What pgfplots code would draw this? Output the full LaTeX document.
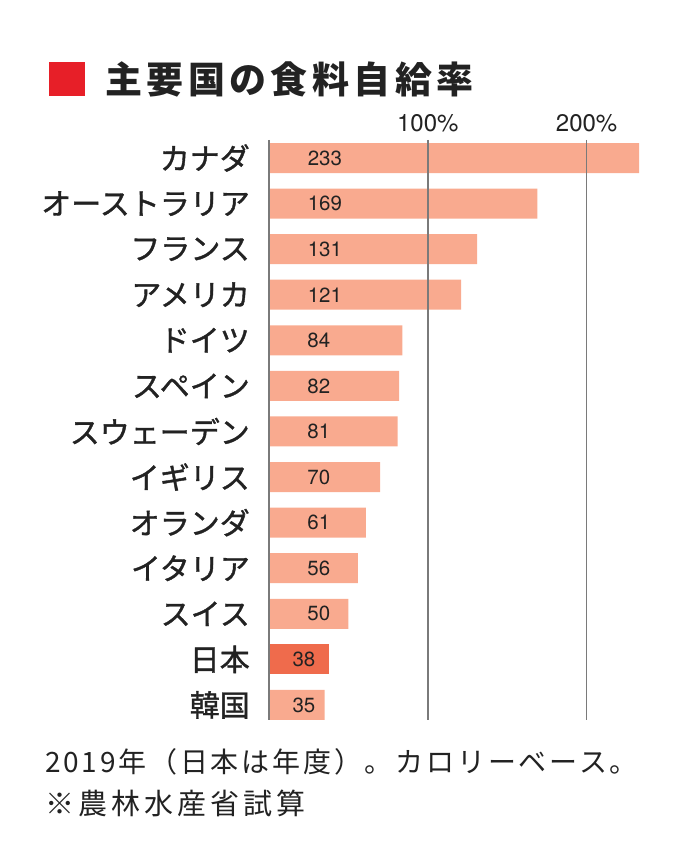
\documentclass[border=0pt]{standalone}
\usepackage{pgfplots}
\pgfplotsset{compat=1.18}
\usepackage{fontspec}
\setmainfont{TeX Gyre Heros}
\newfontfamily\jp{Noto Sans CJK JP}
\newfontfamily\jplab[FakeBold=1.2]{Noto Sans CJK JP}
\newfontfamily\jpa[LetterSpace=10]{Noto Sans CJK JP}
\newfontfamily\jpb[LetterSpace=14]{Noto Sans CJK JP}
\newfontfamily\jptitle[LetterSpace=12]{Noto Sans CJK JP}
\definecolor{barc}{HTML}{F9AA8F}
\definecolor{japc}{HTML}{EF6B4C}
\definecolor{redsq}{HTML}{E71F28}
\definecolor{gridc}{HTML}{7A7A7A}
\definecolor{txt}{HTML}{222222}
\begin{document}
\begin{tikzpicture}
\path (-269pt,-125pt) rectangle (431pt,720pt);
\fill[redsq] (-220pt,624pt) rectangle (-184pt,658pt);
\node[anchor=west, inner sep=0pt, text=txt] at (-164pt,641pt) {\jptitle\bfseries\fontsize{37}{37}\selectfont 主要国の食料自給率};
\begin{axis}[
  at={(0pt,0pt)}, anchor=south west,
  scale only axis, width=370pt, height=580pt,
  xmin=0, xmax=233, ymin=-0.395, ymax=12.33,
  y dir=reverse, enlargelimits=false, clip=false,
  /pgf/number format/assume math mode=true,
  axis line style={draw=none}, major tick length=0pt,
  xtick={0,100,200}, xticklabels={,100\%,200\%},
  xticklabel pos=right,
  xticklabel style={font=\fontsize{24}{24}\selectfont, text=txt, inner sep=0pt, yshift=8pt},
  ytick={0,...,12},
  yticklabels={カナダ,オーストラリア,フランス,アメリカ,ドイツ,スペイン,スウェーデン,イギリス,オランダ,イタリア,スイス,日本,韓国},
  yticklabel style={font=\jplab\fontsize{30}{30}\selectfont, text=txt, inner sep=0pt, anchor=east, xshift=-19pt},
  xmajorgrids, grid style={gridc, line width=1.8pt},
  axis on top,
]
\addplot[xbar, bar width=30pt, bar shift=0pt, fill=barc, draw=none] coordinates {
(233,0) (169,1) (131,2) (121,3) (84,4) (82,5) (81,6) (70,7) (61,8) (56,9) (50,10) (35,12)};
\addplot[xbar, bar width=30pt, bar shift=0pt, fill=japc, draw=none] coordinates {(38,11)};
\addplot[draw=none, mark=none, nodes near coords, point meta=explicit,
  nodes near coords style={anchor=center, inner sep=0pt, text=txt, font=\fontsize{20.5}{20.5}\selectfont}]
  table[x=lx, y=idx, meta=val] {
idx lx val
0 35.2 233
1 35.2 169
2 35.2 131
3 35.2 121
4 31.4 84
5 31.4 82
6 31.4 81
7 31.4 70
8 31.4 61
9 31.4 56
10 31.4 50
11 22 38
12 22 35
};
\end{axis}
\node[anchor=west, inner sep=0pt, text=txt] at (-224pt,-42pt) {\jpa\fontsize{28}{28}\selectfont 2019年（日本は年度）。カロリーベース。};
\node[anchor=west, inner sep=0pt, text=txt] at (-224pt,-83pt) {\jpb\fontsize{29}{29}\selectfont ※農林水産省試算};
\end{tikzpicture}
\end{document}
